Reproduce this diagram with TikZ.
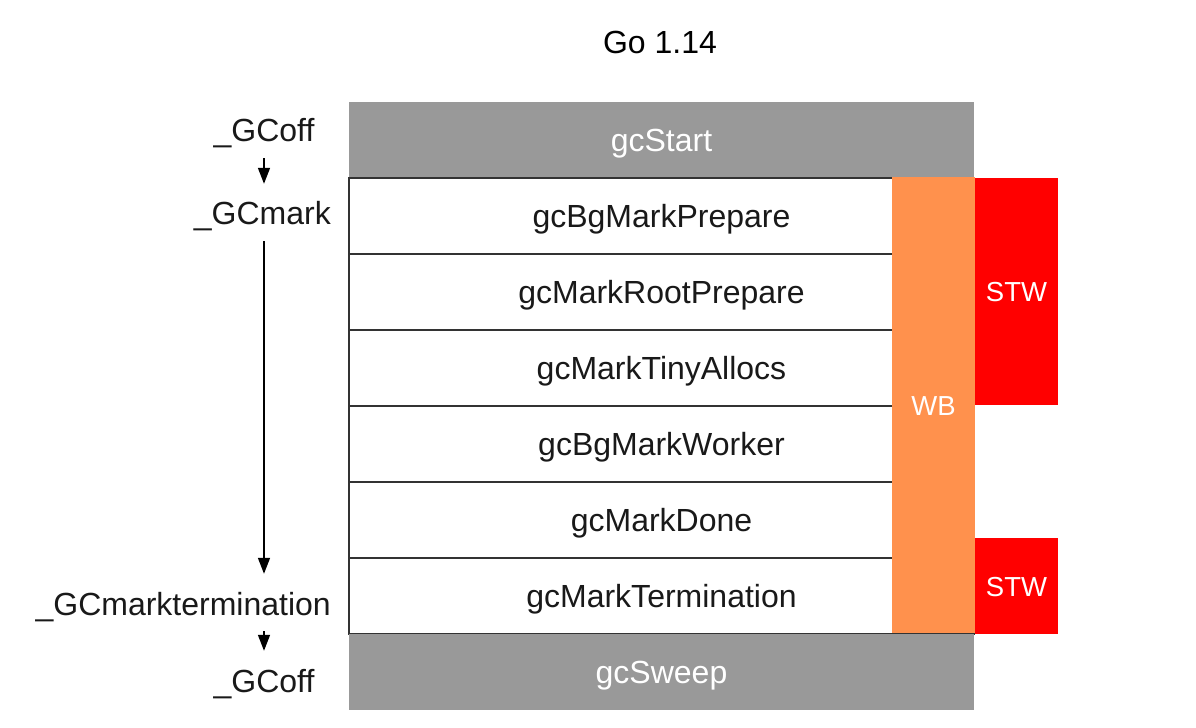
\documentclass[tikz,border=0pt]{standalone}
\usepackage{fontspec}
\setmainfont{Liberation Sans}
\usetikzlibrary{arrows.meta}
\definecolor{gcgray}{HTML}{999999}
\definecolor{wborange}{HTML}{FF914D}
\definecolor{stwred}{HTML}{FF0000}
\definecolor{rowline}{HTML}{333333}
\begin{document}
\begin{tikzpicture}
	[
		x=1bp, y=-1bp,
		every node/.style = {
			font=\fontsize{32bp}{38bp}\selectfont,
			text height=23bp, text depth=0pt, inner sep=0pt
		},
		phase/.style = {
			shape=rectangle, fill=gcgray, text=white,
			minimum width=625bp, minimum height=76bp
		},
		markrow/.style = {
			shape=rectangle, draw=rowline, line width=1.5bp, fill=white,
			text=black!90, minimum width=625bp, minimum height=76bp
		},
		barrier/.style = {
			shape=rectangle, text=white, minimum width=83bp,
			font=\fontsize{27.5bp}{33bp}\selectfont, text height=20bp
		},
		state/.style = {
			text depth=7bp, inner xsep=0pt, inner ysep=4bp, text=black!90
		},
		flow/.style = {
			-{Triangle[width=12bp,length=16bp]},
			line width=1.5bp, shorten <=5bp, shorten >=14bp
		}
	]
	\useasboundingbox (0,0) rectangle (1196,728);
	\node (title) at (660,42) {Go 1.14};
	% phases
	\node[phase] (start) at (661.5,140) {gcStart};
	\node[markrow] (prep) at (661.5,216) {gcBgMarkPrepare};
	\node[markrow] (root) at (661.5,292) {gcMarkRootPrepare};
	\node[markrow] (tiny) at (661.5,368) {gcMarkTinyAllocs};
	\node[markrow] (worker) at (661.5,444) {gcBgMarkWorker};
	\node[markrow] (done) at (661.5,520) {gcMarkDone};
	\node[markrow] (termin) at (661.5,596) {gcMarkTermination};
	\node[phase] (sweep) at (661.5,672) {gcSweep};
	% barriers
	\node[barrier, fill=wborange, minimum height=456bp] (wb) at (933.5,405) {WB};
	\node[barrier, fill=stwred, minimum height=227bp] (stwa) at (1016.5,291.5) {STW};
	\node[barrier, fill=stwred, minimum height=96bp] (stwb) at (1016.5,586) {STW};
	% states
	\node[state, anchor=base] (off1) at (264,142) {\_GCoff};
	\node[state, anchor=base east] (mark) at (331,225) {\_GCmark};
	\node[state, anchor=base east] (term) at (331,615) {\_GCmarktermination};
	\node[state, anchor=base] (off2) at (264,692) {\_GCoff};
	\draw[flow] (off1.south) -- (off1.south |- mark.north);
	\draw[flow] (off1.south |- mark.south) -- (off1.south |- term.north);
	\draw[flow] (off1.south |- term.south) -- (off2.north);
\end{tikzpicture}
\end{document}
